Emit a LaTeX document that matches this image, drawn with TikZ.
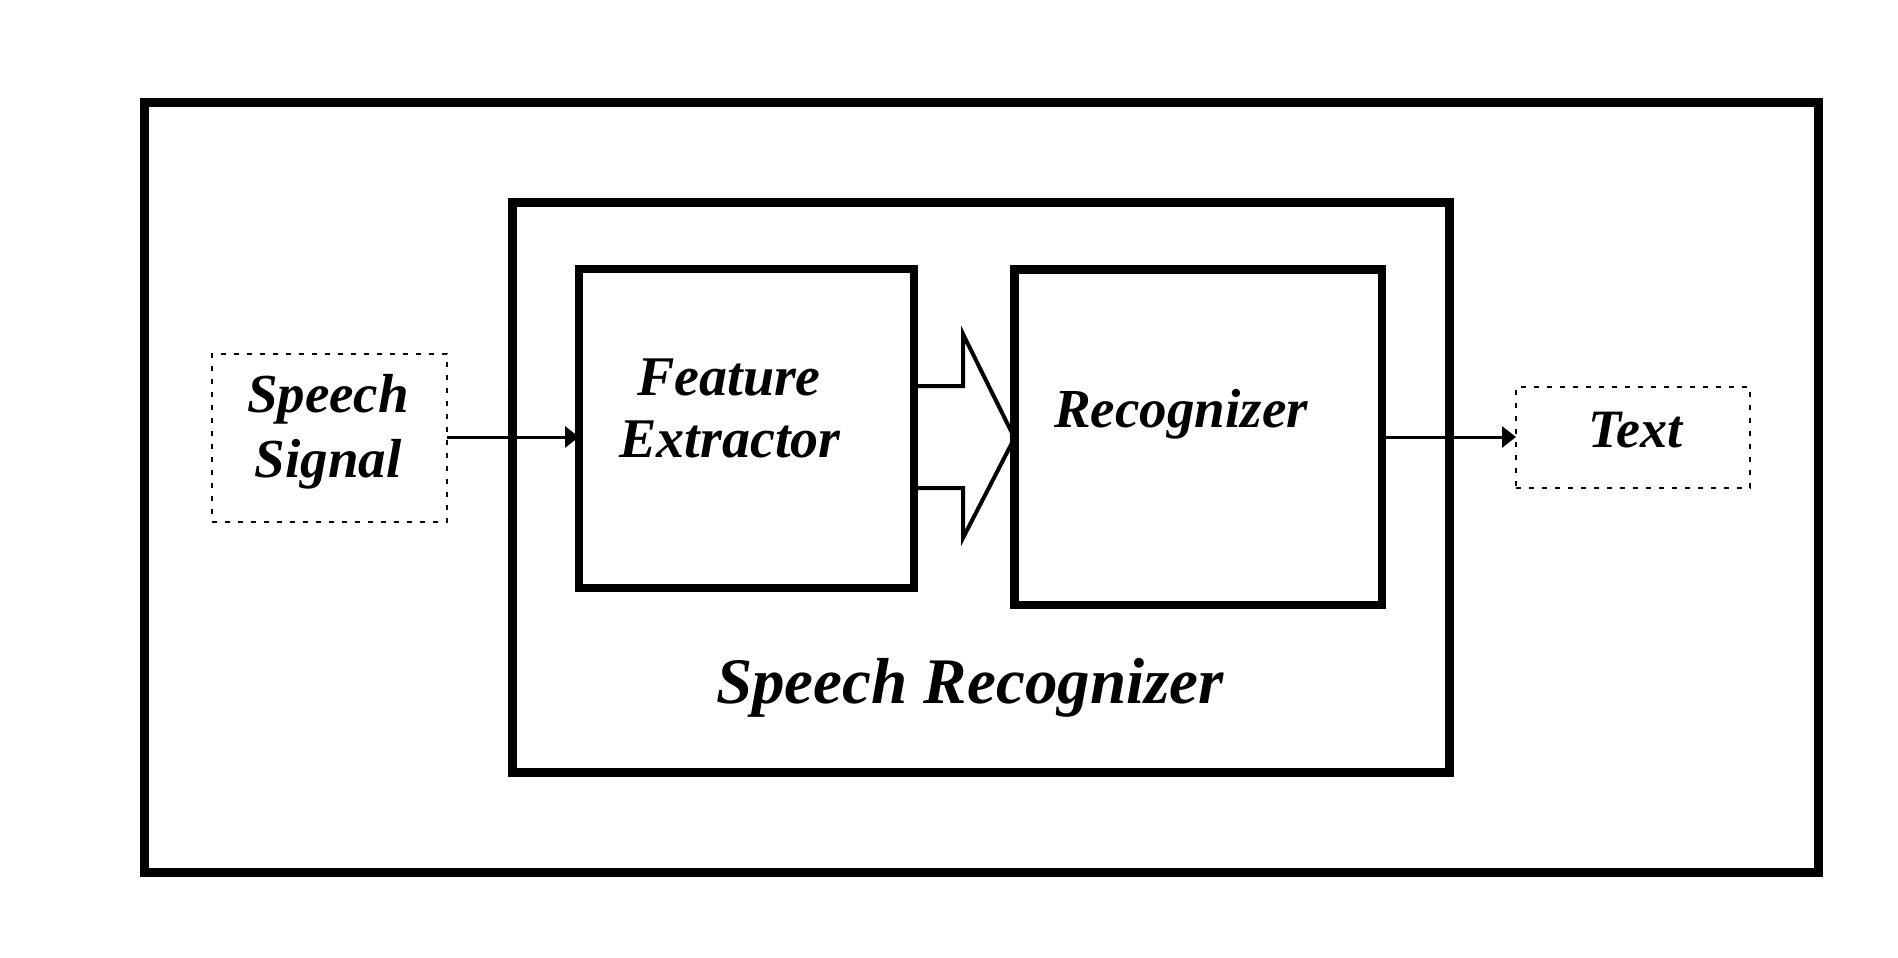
\documentclass[tikz,border=0pt]{standalone}
\usepackage{fontspec}
\setmainfont{Liberation Serif}
\usetikzlibrary{arrows.meta}
\begin{document}
\begin{tikzpicture}[x=1pt,y=-1pt,
  blockbox/.style={draw=black,line width=8.5pt,inner sep=0pt,outer sep=0pt},
  dotbox/.style={draw=black,line width=2.5pt,dash pattern=on 5pt off 8pt,inner sep=0pt,outer sep=0pt},
  lbl/.style={anchor=base,inner sep=0pt,font=\bfseries\itshape\fontsize{#1}{#1}\selectfont},
  conn/.style={line width=3pt,-{Triangle[length=14pt,width=21pt]}},
  hollow/.style={draw=black,line width=4pt,line join=miter}]
\useasboundingbox (0,0) rectangle (1898,958);
\fill[white] (0,0) rectangle (1898,958);
% outer and inner frames
\node[draw=black,line width=9pt,inner sep=0pt,minimum width=1674pt,minimum height=769.5pt] (outer) at (981,487.25) {};
\node[draw=black,line width=9pt,inner sep=0pt,minimum width=936.5pt,minimum height=569.5pt] (inner) at (980.75,487.25) {};
% blocks
\node[blockbox,minimum width=335pt,minimum height=319pt] (fe) at (746.5,428.5) {};
\node[blockbox,minimum width=367.5pt,minimum height=335.5pt] (rec) at (1198.25,437.25) {};
% dotted in/out boxes
\node[dotbox,minimum width=235pt,minimum height=168pt] (sig) at (329.5,438) {};
\node[dotbox,minimum width=234pt,minimum height=101pt] (txt) at (1633,437.5) {};
% labels
\node[lbl=55] (l1) at (328,412) {Speech};
\node[lbl=55] (l2) at (328,477) {Signal};
\node[lbl=56] (l3) at (729,395) {Feature};
\node[lbl=56] (l4) at (730,457) {Extractor};
\node[lbl=55] (l5) at (1181,427) {Recognizer};
\node[lbl=54] (l6) at (1635,447) {Text};
\node[lbl=65] (l7) at (970,703) {Speech Recognizer};
% connectors
\coordinate (a1) at (sig.east |- 0,437);
\coordinate (a2) at (fe.west |- 0,437);
\draw[conn] (a1) -- (a2);
\coordinate (b1) at (rec.east |- 0,437);
\coordinate (b2) at (txt.west |- 0,437);
\draw[conn] (b1) -- (b2);
% hollow arrow
\coordinate (h0) at (fe.east |- 0,386);
\coordinate (h6) at (fe.east |- 0,488);
\coordinate (tip) at (rec.west |- 0,438);
\draw[hollow] (h0) -- (963,386) -- (963,334) -- (tip) -- (963,538) -- (963,488) -- (h6);
\end{tikzpicture}
\end{document}
